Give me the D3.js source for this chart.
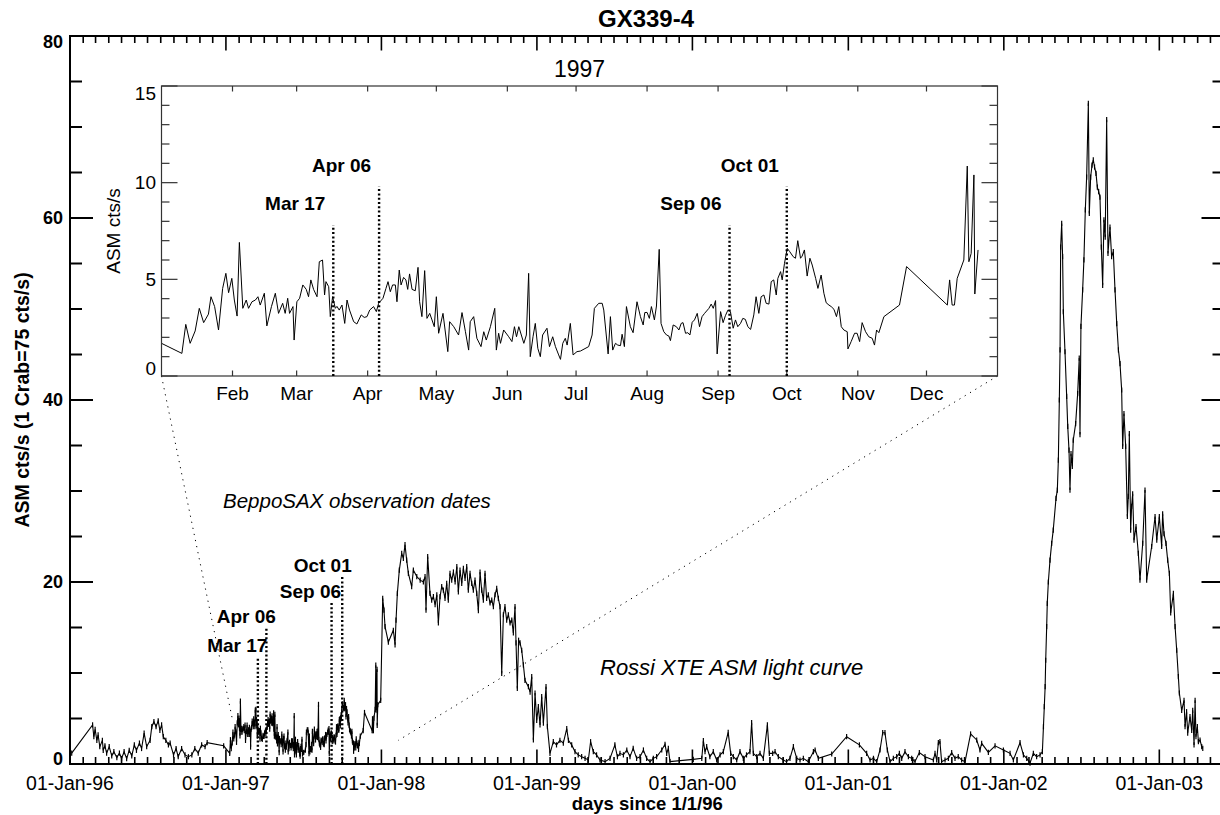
<!DOCTYPE html>
<html><head><meta charset="utf-8">
<script src="https://cdn.jsdelivr.net/npm/d3@7"></script>
<style>body{margin:0;background:#fff} svg{display:block} text{font-family:"Liberation Sans",Arial,Helvetica,sans-serif;fill:#000}</style>
</head><body><svg id="c" width="1220" height="815"></svg>
<script>
// ---- data: days since 1/1/96 and ASM cts/s ----
const days1996 = [4,53,56,59,63,66,70,76,78,82,86,92,98,103,110,116,121,127,133,139,145,151,156,163,168,174,180,188,192,197,202,207,211,215,219,225,231,235,243,249,254,262,270,278,286,293,301,309,317,322];
const vals1996 = [1.2,4.3,3.0,3.8,2.6,3.2,1.9,2.6,1.5,2.0,1.2,1.9,0.9,1.35,0.7,1.2,0.6,1.35,0.6,1.5,0.9,2.1,1.5,2.3,1.7,3.4,1.9,2.6,4.1,4.65,4.1,4.75,3.7,4.3,3.0,2.6,2.1,2.3,1.0,1.7,0.8,1.7,1.0,0.8,1.0,1.7,1.2,2.1,1.9,2.35];
// 1997: day of year (day 0 = 1 Jan 1997) and ASM cts/s (also shown in the inset)
const doy1997 = [-5.3,8.9,10.6,12.5,14.7,16.5,18.4,20.5,21.6,23.2,24.9,26.7,28.1,29.3,30.7,31.8,33,34,35.5,37,38,39.5,41,42.1,43.1,44.9,46,48,49.7,51.1,52.9,54,55.1,55.9,57.4,57.9,59.1,60.3,61.7,63.2,64.2,65.2,66.4,67.9,68.9,70.3,71.2,71.8,73,73.7,74.7,75.9,76.6,77.6,78.8,80,81,82.1,83.9,85.3,87.2,88.5,89.7,90.9,92.6,93.8,94.8,96.7,98,98.9,99.9,100.9,102.1,102.8,103.8,104.6,105.7,106.7,107.5,108.3,109.4,110.8,112,112.7,113.7,114.9,115.9,117.1,118.1,119.1,120,121,122.9,125,125.8,127.6,129.7,131.2,132.7,134.1,134.8,136.3,137.7,139.5,140.7,141.8,143.6,145.5,146.2,147.2,148,149.4,151.6,153,154.1,155,156,157.1,158.2,159.3,160.3,161,162.2,163.2,164.3,165.4,166.4,168.3,169.4,170.8,172,173.4,174.2,175.2,176.3,177.1,178.5,179.7,181.4,182.9,186.5,188,189,190.9,192.4,193.1,195,196,197,198.2,199.2,200.4,201.1,202.1,203,204.7,205.9,207.6,209.1,210.3,211,212,213,213.9,215.2,216.1,217.3,218.1,219.3,220.5,221.5,222.2,223.4,224.8,225.9,226.9,227.7,228.8,229.8,230.7,231.7,232.7,233.9,234.9,236,237.1,239,240,240.9,241.9,242.6,244.1,245.2,246.2,247.3,248.4,249.6,250.6,251.6,252.8,253.8,254.9,256,257.2,258.6,259.6,260.8,261.8,263,264,265.2,266.2,267.3,268.4,269.1,270.3,271,272,273.2,274.3,275.8,276.8,277.8,279,279.7,280.7,281.9,283.1,284.1,285.6,286.6,288,289.2,290.2,291.4,292.4,293.6,294.7,295.7,296.8,297.9,299.4,299.7,301.1,302.6,303.7,304.8,305.9,307.4,308.8,310.3,311.3,312.2,313.2,315.4,322.2,325.3,343.1,344.1,345.2,346.2,347.4,350.3,351.8,352.5,353.5,354.7,355.1,356.5];
const vals1997 = [2.0,1.17,2.67,1.69,2.33,3.5,2.76,3.2,4.1,3.59,2.38,4.53,5.31,4.31,5.05,3.93,3.1,6.91,3.5,3.93,3.5,3.84,3.93,4.1,3.67,4.28,2.59,3.59,4.28,3.24,3.76,3.24,4.02,3.24,3.59,1.86,3.84,4.02,4.71,4.48,4.1,4.97,4.48,4.1,5.91,6.0,4.19,4.88,4.62,3.07,4.1,3.5,3.6,3.41,3.67,2.72,3.93,3.41,2.81,2.69,3.16,3.03,3.07,3.41,3.59,3.33,3.76,4.02,4.53,4.88,4.36,4.71,4.71,3.84,5.48,4.71,5.1,4.97,4.48,5.28,4.48,4.41,5.62,3.84,3.07,5.45,2.98,3.24,2.9,2.55,4.1,2.21,3.24,1.26,2.81,2.55,2.12,3.28,2.29,1.34,2.81,3.07,1.95,1.52,2.29,1.86,2.55,3.5,1.34,2.21,1.69,2.38,2.03,1.78,2.55,2.03,2.55,2.12,1.69,2.12,5.31,1.0,2.03,2.72,1.43,1.0,2.12,2.47,1.52,2.03,1.52,1.09,0.86,1.69,1.95,1.6,2.72,1.09,1.26,1.29,1.52,2.12,3.5,3.76,3.76,3.41,1.14,3.07,1.34,1.69,1.6,1.57,2.16,1.52,3.59,2.55,2.24,3.84,3.07,2.64,3.28,3.29,2.98,3.59,2.9,3.62,6.55,2.72,2.29,2.12,2.07,1.83,2.64,2.55,2.38,2.72,2.76,2.21,2.24,2.12,2.78,2.9,3.24,2.55,3.07,3.24,3.5,3.72,3.5,3.9,1.14,3.33,2.76,3.12,3.41,3.33,2.47,2.9,2.55,2.72,2.98,2.93,2.55,2.41,3.16,4.1,3.24,4.1,4.19,3.76,3.72,4.88,4.97,4.19,5.05,5.4,4.97,5.83,6.6,6.43,6.17,6.09,7.0,6.09,6.2,6.52,5.17,6.09,5.74,5.05,4.53,5.22,4.28,3.79,3.67,3.59,3.45,3.07,3.59,2.55,2.38,2.29,1.4,1.78,2.21,2.21,1.78,2.76,2.29,2.03,1.95,1.6,2.38,2.24,3.07,3.67,5.66,3.67,4.97,3.67,3.67,5.05,6.0,10.86,5.91,6.34,10.4,4.24,6.52];
const days9803 = [729.3,734,737,739.5,747.3,759,763,765.3,768.4,773,778.6,782.5,786.4,790.3,794.3,802,806,814,822,829.5,833.4,835.7,839.6,845,849,853,857,861,864.7,868.6,872.5,876.4,880.3,884.2,888,892,896,900,904,908,911.6,915.5,919.5,923.4,927.3,931.2,935,939,943,946.8,950.7,954.7,958.6,962.5,966.4,970.3,974.2,978,982,986,990,993.8,997.7,1001.6,1005.5,1009.4,1013.4,1017.3,1021,1025,1029,1033,1037,1040.7,1044.6,1047,1050,1053,1056.4,1060.3,1064.2,1068,1076,1080,1083.8,1087.7,1091.6,1095.5,1099.4,1103.3,1107.2,1111.2,1117.4,1120.6,1126.7,1134.5,1142,1150,1158,1166,1170,1177.6,1185.4,1193,1201,1209,1216.7,1222,1228.4,1236,1244,1256,1267.6,1279,1285,1291,1299,1307,1314.5,1322,1330,1338,1346,1353.6,1361.5,1369.3,1377,1389,1396.7,1400.6,1404.5,1408.4,1463,1483,1486.7,1490.6,1494.5,1502,1510,1518,1526,1533.6,1545,1550.8,1557,1565,1572.7,1580.5,1588,1596,1600,1604,1612,1619.7,1627.5,1637,1641.6,1649.4,1655,1662.7,1674.4,1682,1690,1698,1705.8,1713.6,1721.4,1733,1745,1749,1756.6,1788,1823,1853,1870,1878,1886,1893.6,1901.4,1907.7,1913,1918.6,1925,1932.7,1940.5,1946.8,1952.3,1960,1968,1975.7,1983.5,1993.7,2007,2026.6,2030.5,2034.4,2038.3,2042,2046,2054,2061.8,2069.6,2077.4,2085,2093,2101,2114,2128.3,2136,2140,2155.7,2171.4,2191,2206.6,2214.4,2230,2238,2245.7,2253.5,2261.3,2269,2277,2282.5,2285,2287,2289,2290.3,2292.6,2294,2296.5,2300.4,2304.3,2308,2314.5,2317.6,2320,2322.3,2324,2325.4,2327.8,2330,2331.7,2335.6,2339.5,2342,2345,2347.3,2349.7,2352.8,2355,2360.6,2365.3,2369,2370.8,2373,2377,2380,2383.3,2386.4,2390.4,2392.7,2395.8,2399,2402,2405,2408.4,2411.5,2414.6,2417.7,2420.9,2424,2427,2430,2433.4,2436.5,2441.2,2445,2449,2453,2457,2461,2464.7,2468.6,2471,2474,2478,2482,2484.2,2486.6,2489.7,2492,2494.4,2497.6,2502.3,2507.7,2511.6,2518,2523.4,2527.3,2539,2547,2551,2557,2562.5,2564.8,2568,2572.7,2576.6,2580.6,2583.7,2590,2594,2597.8,2601.7,2604,2609.5,2615,2617.4,2621,2623.6,2629,2633,2635.4,2638.5,2641,2643,2646.3,2648.7,2652.6,2656.5,2659];
const vals9803 = [7.0,18.2,16.9,15.1,13.4,14.7,13.1,15.8,18.75,21.3,23.15,22.6,24.1,22.4,20.95,19.5,21.3,20.6,20.2,20.0,20.6,16.9,22.8,18.75,18.0,18.4,17.5,18.6,15.5,18.4,19.5,19.1,18.2,19.85,18.0,20.95,20.2,21.1,20.0,21.7,18.9,21.3,19.85,21.5,20.4,21.7,19.1,20.95,19.85,19.1,20.2,18.75,16.85,21.1,19.1,18.0,20.95,18.2,18.6,17.7,18.0,17.3,18.6,19.3,18.2,17.3,9.96,16.4,17.3,15.8,16.4,15.5,15.8,14.4,17.3,13.3,8.3,13.6,13.3,12.5,10.9,9.2,8.5,7.9,9.6,2.64,7.8,4.8,6.3,4.3,7.4,4.5,8.5,4.1,1.17,2.45,2.1,2.6,2.3,3.9,2.6,2.1,1.35,1.0,0.8,0.62,0.44,2.45,1.35,1.0,0.44,0.26,0.62,2.1,0.8,1.17,1.0,1.54,0.8,1.72,0.62,0.8,1.54,0.62,0.26,0.62,0.8,1.54,2.16,1.17,1.72,0.26,0.51,0.62,2.56,1.35,1.9,0.8,1.35,0.44,1.0,1.35,3.48,1.17,0.8,0.44,1.35,0.62,1.0,1.35,4.54,1.17,0.8,1.17,0.62,4.3,1.17,1.17,1.35,0.8,0.44,0.26,0.62,1.9,0.62,0.44,0.62,0.26,1.35,1.54,0.62,1.1,3.0,2.1,1.17,0.44,0.62,0.26,1.54,3.44,3.44,1.54,0.26,0.62,0.8,1.17,0.62,1.35,0.8,0.62,0.26,1.25,0.8,0.44,1.17,0.44,2.34,2.45,0.26,0.44,0.62,1.25,0.62,0.8,0.44,0.26,3.3,2.64,1.54,2.27,1.28,2.0,1.54,1.17,0.44,2.34,1.0,0.62,0.1,1.17,0.8,1.0,1.35,4.1,6.3,8.5,11.4,15.1,17.65,20.0,22.4,24.25,25.7,29.2,30.1,33.4,40.0,45.5,56.8,59.4,55.75,49.7,45.3,40.4,37.1,34.5,30.1,34.1,32.7,35.6,37.4,40.7,44.6,36.2,48.1,52.1,55.4,60.9,64.5,72.6,60.5,64.5,65.8,66.4,65.6,64.9,63.4,62.9,62.3,56.8,52.6,59.8,57.9,70.8,56.1,59.0,55.75,56.3,52.1,48.4,45.5,44.0,41.1,34.9,38.5,34.9,27.2,29.4,36.3,25.7,28.3,29.7,24.6,26.1,23.15,20.2,24.25,30.1,20.2,23.9,27.2,24.6,27.2,23.9,27.5,25.3,24.25,22.4,20.95,16.6,18.75,15.1,12.5,9.6,7.8,5.9,7.0,4.1,5.75,3.4,5.2,3.7,5.9,2.1,7.0,3.0,4.1,2.45,2.64,1.9,1.72];

const xTickYears = [1996,1997,1998,1999,2000,2001,2002,2003];
const xTickLabels = ["01-Jan-96","01-Jan-97","01-Jan-98","01-Jan-99","01-Jan-00","01-Jan-01","01-Jan-02","01-Jan-03"];
const yMajor = [0,20,40,60,80];
const insetMonths = ["Feb","Mar","Apr","May","Jun","Jul","Aug","Sep","Oct","Nov","Dec"];
const insetYMajor = [0,5,10,15];
const obsDates = ["1997-03-17","1997-04-06","1997-09-06","1997-10-01"];
const obsLabels = ["Mar 17","Apr 06","Sep 06","Oct 01"];
const obsTopMain = [11.8,14.9,17.7,20.6];
const obsTopInset = [7.8,9.8,7.8,9.8];

// ---- helpers ----
const T0 = Date.UTC(1996,0,1), T97 = Date.UTC(1997,0,1);
const dayOf = d => (d.getTime() - T0)/864e5;
const mainData = [];
days1996.forEach((d,i)=>mainData.push([d,vals1996[i]]));
doy1997.forEach((d,i)=>mainData.push([d+366,vals1997[i]]));
days9803.forEach((d,i)=>mainData.push([d,vals9803[i]]));
const insetData = doy1997.map((d,i)=>[d,vals1997[i]]);

const svg = d3.select("#c");
const L=70, R=1224.5, Tp=36, B=764;
const x = d3.scaleLinear().domain([0,2710]).range([L,R]);
const y = d3.scaleLinear().domain([0,80]).range([B,Tp]);

// light curve
svg.append("path").datum(mainData)
  .attr("d", d3.line().x(d=>x(d[0])).y(d=>y(d[1])))
  .attr("fill","none").attr("stroke","#000").attr("stroke-width",1.1);
svg.append("g").selectAll("line").data(mainData).join("line")
  .attr("x1",d=>x(d[0])).attr("x2",d=>x(d[0]))
  .attr("y1",d=>y(d[1])-2.6).attr("y2",d=>y(d[1])+2.6)
  .attr("stroke","#000").attr("stroke-width",1.2);

// main frame and ticks
svg.append("rect").attr("x",L).attr("y",Tp).attr("width",R-L).attr("height",B-Tp)
  .attr("fill","none").attr("stroke","#000").attr("stroke-width",2);
const tk = svg.append("g").attr("stroke","#000").attr("stroke-width",2);
const yMinor = d3.range(5,80,5).filter(v=>v%20!==0);
yMajor.forEach(v=>{
  tk.append("line").attr("x1",L).attr("x2",L+23).attr("y1",y(v)).attr("y2",y(v));
  tk.append("line").attr("x1",R).attr("x2",R-23).attr("y1",y(v)).attr("y2",y(v));
});
yMinor.forEach(v=>{
  tk.append("line").attr("x1",L).attr("x2",L+12).attr("y1",y(v)).attr("y2",y(v));
  tk.append("line").attr("x1",R).attr("x2",R-12).attr("y1",y(v)).attr("y2",y(v));
});
const majorDays = xTickYears.map(yr=>dayOf(new Date(Date.UTC(yr,0,1))));
const minorDays = d3.utcMonth.range(new Date(T0), new Date(Date.UTC(2004,0,1)))
  .filter(d=>d.getUTCMonth()!==0).map(dayOf).filter(d=>d<2710);
const tk2 = svg.append("g").attr("stroke","#000").attr("stroke-width",1.6);
majorDays.forEach(d=>{
  tk2.append("line").attr("x1",x(d)).attr("x2",x(d)).attr("y1",B).attr("y2",B-14.5);
  tk2.append("line").attr("x1",x(d)).attr("x2",x(d)).attr("y1",Tp).attr("y2",Tp+14.5);
});
minorDays.forEach(d=>{
  tk2.append("line").attr("x1",x(d)).attr("x2",x(d)).attr("y1",B).attr("y2",B-7);
  tk2.append("line").attr("x1",x(d)).attr("x2",x(d)).attr("y1",Tp).attr("y2",Tp+7);
});
// tick labels
svg.append("g").selectAll("text").data(yMajor).join("text")
  .attr("x",63).attr("y",v=>y(v)+6.3+(v===80?6:0)+(v===0?-5:0))
  .attr("text-anchor","end").attr("font-size",18).attr("font-weight","bold").text(v=>v);
svg.append("g").selectAll("text").data(majorDays).join("text")
  .attr("x",d=>x(d)).attr("y",790).attr("text-anchor","middle").attr("font-size",19.5)
  .text((d,i)=>xTickLabels[i]);
// titles
svg.append("text").attr("x",646).attr("y",27).attr("text-anchor","middle")
  .attr("font-size",24).attr("font-weight","bold").text("GX339-4");
svg.append("text").attr("x",(L+R)/2).attr("y",810).attr("text-anchor","middle")
  .attr("font-size",18.5).attr("font-weight","bold").text("days since 1/1/96");
svg.append("text").attr("transform","translate(29,400) rotate(-90)").attr("text-anchor","middle")
  .attr("font-size",19.5).attr("font-weight","bold").text("ASM cts/s (1 Crab=75 cts/s)");

// observation date markers in main plot
obsDates.forEach((s,i)=>{
  const d = dayOf(new Date(s+"T00:00:00Z"));
  svg.append("line").attr("x1",x(d)).attr("x2",x(d)).attr("y1",B).attr("y2",y(obsTopMain[i]))
    .attr("stroke","#000").attr("stroke-width",2.4).attr("stroke-dasharray","2,2.3");
  svg.append("text").attr("x",x(d)+9.5).attr("y",y(obsTopMain[i])-5).attr("text-anchor","end")
    .attr("font-size",19).attr("font-weight","bold").text(obsLabels[i]);
});

// annotations
svg.append("text").attr("x",223).attr("y",508).attr("font-size",20.5).attr("font-style","italic")
  .text("BeppoSAX observation dates");
svg.append("text").attr("x",600).attr("y",675).attr("font-size",22).attr("font-style","italic")
  .text("Rossi XTE ASM light curve");

// ---- inset ----
const IL=161.5, IR=997.5, IT=86, IB=376;
const xi = d3.scaleLinear().domain([0,365]).range([IL,IR]);
const yi = d3.scaleLinear().domain([0,15]).range([IB,IT]);
// connectors
svg.append("line").attr("x1",IL).attr("y1",IB).attr("x2",x(382.6)).attr("y2",y(4.6))
  .attr("stroke","#000").attr("stroke-width",1).attr("stroke-dasharray","1.2,5");
svg.append("line").attr("x1",IR).attr("y1",IB).attr("x2",x(770.7)).attr("y2",y(2.6))
  .attr("stroke","#000").attr("stroke-width",1).attr("stroke-dasharray","1.2,5");
const ig = svg.append("g");
ig.append("rect").attr("x",IL).attr("y",IT).attr("width",IR-IL).attr("height",IB-IT).attr("fill","#fff");
svg.append("defs").append("clipPath").attr("id","ic").append("rect")
  .attr("x",IL).attr("y",IT).attr("width",IR-IL).attr("height",IB-IT);
ig.append("path").datum(insetData).attr("clip-path","url(#ic)")
  .attr("d", d3.line().x(d=>xi(d[0])).y(d=>yi(d[1])))
  .attr("fill","none").attr("stroke","#000").attr("stroke-width",1);
ig.append("rect").attr("x",IL).attr("y",IT).attr("width",IR-IL).attr("height",IB-IT)
  .attr("fill","none").attr("stroke","#333").attr("stroke-width",1.2);
const itk = ig.append("g").attr("stroke","#333").attr("stroke-width",1.2);
const monthDoy = d3.utcMonth.range(new Date(Date.UTC(1997,1,1)), new Date(Date.UTC(1997,11,2)))
  .map(d=>(d.getTime()-T97)/864e5);
monthDoy.forEach(d=>{
  itk.append("line").attr("x1",xi(d)).attr("x2",xi(d)).attr("y1",IB).attr("y2",IB-5.5);
  itk.append("line").attr("x1",xi(d)).attr("x2",xi(d)).attr("y1",IT).attr("y2",IT+5.5);
});
d3.range(0,16).forEach(v=>{
  const len = v%5===0 ? 16 : 8;
  itk.append("line").attr("x1",IL).attr("x2",IL+len).attr("y1",yi(v)).attr("y2",yi(v));
  itk.append("line").attr("x1",IR).attr("x2",IR-len).attr("y1",yi(v)).attr("y2",yi(v));
});
ig.append("g").selectAll("text").data(monthDoy).join("text")
  .attr("x",d=>xi(d)).attr("y",400).attr("text-anchor","middle").attr("font-size",19)
  .text((d,i)=>insetMonths[i]);
ig.append("g").selectAll("text").data(insetYMajor).join("text")
  .attr("x",156).attr("y",v=>yi(v)+6.8+(v===15?7:0)+(v===0?-8:0))
  .attr("text-anchor","end").attr("font-size",19).text(v=>v);
ig.append("text").attr("x",(IL+IR)/2).attr("y",77).attr("text-anchor","middle")
  .attr("font-size",23).text("1997");
ig.append("text").attr("transform",`translate(120,${(IT+IB)/2}) rotate(-90)`).attr("text-anchor","middle")
  .attr("font-size",19).text("ASM cts/s");
obsDates.forEach((s,i)=>{
  const d = (new Date(s+"T00:00:00Z").getTime()-T97)/864e5;
  ig.append("line").attr("x1",xi(d)).attr("x2",xi(d)).attr("y1",IB).attr("y2",yi(obsTopInset[i]))
    .attr("stroke","#000").attr("stroke-width",2.4).attr("stroke-dasharray","2,2.3");
  ig.append("text").attr("x",xi(d)-8).attr("y",yi(obsTopInset[i])-15).attr("text-anchor","end")
    .attr("font-size",19).attr("font-weight","bold").text(obsLabels[i]);
});
</script></body></html>
